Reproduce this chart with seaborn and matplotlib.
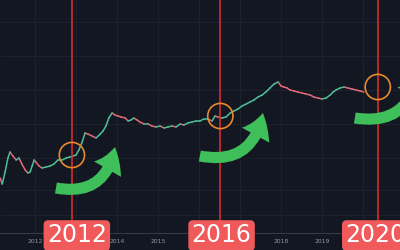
import matplotlib
matplotlib.use("Agg")
import matplotlib.pyplot as plt
from matplotlib.patches import FancyArrowPatch, ArrowStyle
import seaborn as sns
import pandas as pd

# ---- data ----
years = [2011.15, 2011.20, 2011.27, 2011.34, 2011.39, 2011.46, 2011.54, 2011.61, 2011.68, 2011.76,
         2011.83, 2011.88, 2011.93, 2011.98, 2012.02, 2012.10, 2012.17, 2012.27, 2012.37, 2012.46,
         2012.56, 2012.66, 2012.76, 2012.85, 2012.93, 2013.00, 2013.07, 2013.15, 2013.22, 2013.29,
         2013.39, 2013.49, 2013.59, 2013.66, 2013.73, 2013.80, 2013.88, 2013.95, 2014.02, 2014.10,
         2014.20, 2014.27, 2014.34, 2014.41, 2014.49, 2014.56, 2014.66, 2014.76, 2014.85, 2014.95,
         2015.05, 2015.15, 2015.24, 2015.34, 2015.44, 2015.54, 2015.63, 2015.73, 2015.83, 2015.93,
         2016.02, 2016.12, 2016.22, 2016.32, 2016.39, 2016.46, 2016.56, 2016.66, 2016.76, 2016.85,
         2016.95, 2017.05, 2017.15, 2017.24, 2017.34, 2017.44, 2017.54, 2017.63, 2017.73, 2017.83,
         2017.93, 2018.00, 2018.07, 2018.15, 2018.22, 2018.32, 2018.41, 2018.51, 2018.61, 2018.71,
         2018.80, 2018.90, 2019.00, 2019.10, 2019.20, 2019.27, 2019.34, 2019.44, 2019.54, 2019.63,
         2019.73, 2019.83, 2019.93, 2020.02]
level = [55, 49, 61, 75, 81, 77, 73, 75, 69, 63,
         60, 61, 67, 73, 71, 67, 65, 66, 67, 69,
         73, 73, 75, 76, 77, 78, 83, 91, 100, 99,
         97, 95, 99, 102, 107, 115, 120, 118, 117, 116,
         115, 112, 113, 115, 113, 111, 109, 109, 107, 106,
         107, 105, 106, 107, 106, 109, 108, 110, 111, 112,
         112, 114, 114, 112, 117, 116, 115, 116, 120, 122,
         124, 127, 129, 131, 133, 136, 138, 141, 145, 149,
         151, 147, 146, 145, 143, 142, 141, 140, 139, 138,
         136, 135, 134, 135, 138, 141, 143, 145, 146, 145,
         144, 143, 142, 141]
halving_years = [2012.90, 2016.52, 2020.36]
halving_level = [78, 117, 146]
halving_labels = ["2012", "2016", "2020"]
tick_years = [2012, 2013, 2014, 2015, 2016, 2017, 2018, 2019, 2020]
# ticks hidden behind the red labels in the reference carry no text
tick_labels = ["2012", "", "2014", "2015", "", "", "2018", "2019", ""]

BG = "#131722"
GREEN_C = "#4cbf98"
RED_C = "#e06a76"

sns.set_style("dark", {"axes.facecolor": BG, "figure.facecolor": BG})

fig = plt.figure(figsize=(4, 2.5), dpi=100, facecolor=BG)
ax = fig.add_axes([0, 17 / 250, 1, 233 / 250])
ax.set_facecolor(BG)

rows = []
for i in range(len(years) - 1):
    d = "up" if level[i + 1] >= level[i] else "down"
    rows.append({"year": years[i], "level": level[i], "seg": i, "dir": d})
    rows.append({"year": years[i + 1], "level": level[i + 1], "seg": i, "dir": d})
df = pd.DataFrame(rows)
sns.lineplot(data=df, x="year", y="level", hue="dir", units="seg", estimator=None,
             palette={"up": GREEN_C, "down": RED_C}, legend=False, sort=False,
             lw=1.1, ax=ax, zorder=4)

ax.set_xlim(2011.146, 2020.902)
ax.set_ylim(0, 233)

ax.set_xticks(tick_years)
ax.set_xticklabels(tick_labels)
ax.set_yticks([18, 43, 75, 109, 143, 177, 211])
ax.set_yticklabels([])
ax.grid(True, color="#1f2330", lw=0.6)
ax.tick_params(axis="x", colors="#9598a1", labelsize=4.3, length=0, pad=4)
ax.tick_params(axis="y", length=0)
ax.set_xlabel("")
ax.set_ylabel("")
for s in ["top", "left", "right"]:
    ax.spines[s].set_visible(False)
ax.spines["bottom"].set_visible(True)
ax.spines["bottom"].set_color("#363a45")
ax.spines["bottom"].set_linewidth(0.8)

for hy in halving_years:
    ax.axvline(hy, color="#d92b2b", lw=1.2, zorder=5)

sns.scatterplot(x=halving_years, y=halving_level, s=330, marker="o",
                facecolors="none", edgecolor="#e8892e", linewidth=1.2, ax=ax, zorder=6)

style = ArrowStyle("simple", head_length=0.42, head_width=0.56, tail_width=0.2)
arrows = [((2012.51, 45), (2013.95, 86)),
          ((2016.02, 77), (2017.56, 120)),
          ((2019.80, 115), (2021.34, 161))]
for a, b in arrows:
    p = FancyArrowPatch(a, b, arrowstyle=style, connectionstyle="arc3,rad=0.5",
                        mutation_scale=40, color="#3fbf5a", lw=0, zorder=7,
                        shrinkA=0, shrinkB=0)
    ax.add_patch(p)

label_x = [2013.02, 2016.55, 2020.30]
for lx, txt in zip(label_x, halving_labels):
    ax.text(lx, -2.5, txt, ha="center", va="center", color="white", fontsize=17,
            family=["Liberation Sans Narrow", "DejaVu Sans"], clip_on=False, zorder=10,
            bbox=dict(boxstyle="round,pad=0.14,rounding_size=0.2", fc="#f05a5a", ec="none"))

fig.savefig("out.png", dpi=100, facecolor=BG)
